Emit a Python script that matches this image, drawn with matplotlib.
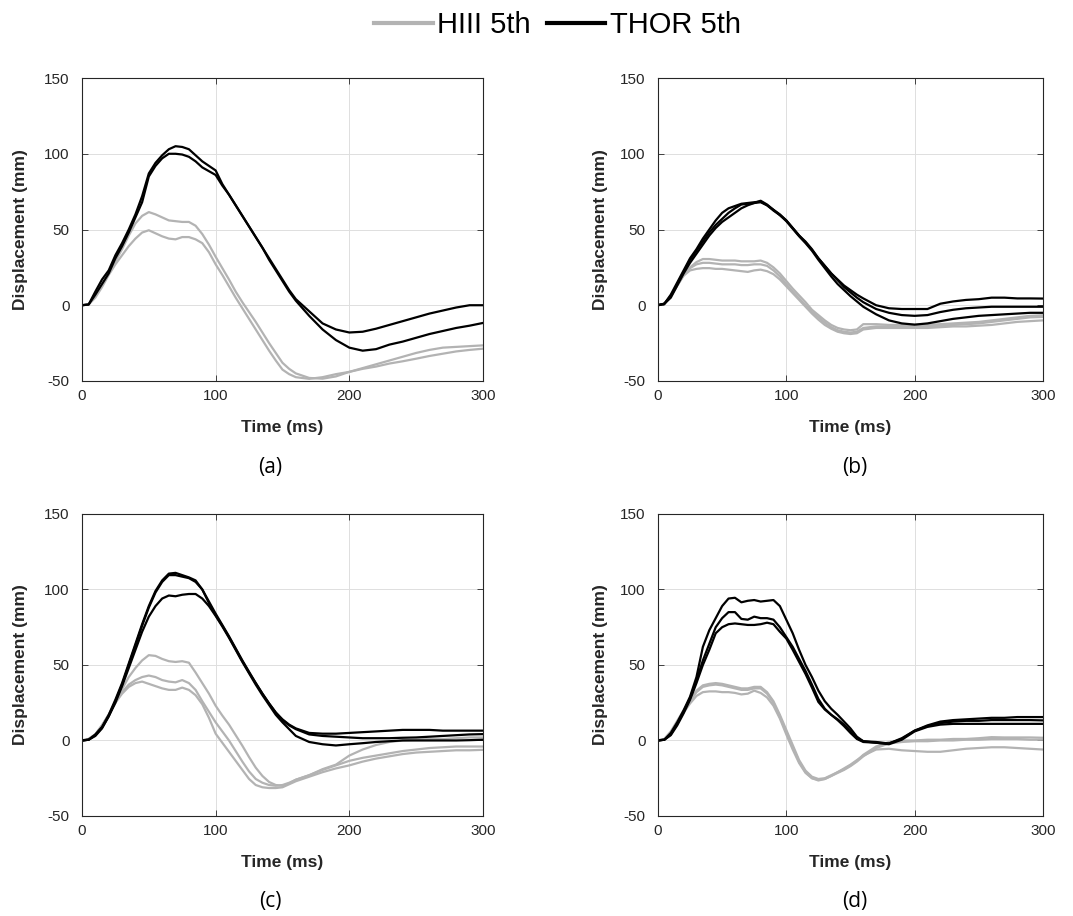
import numpy as np
import matplotlib.pyplot as plt
from matplotlib.lines import Line2D

# time axis shared by every trace (ms)
time_ms = [0, 5, 10, 15, 20, 25, 30, 35, 40, 45, 50, 55, 60, 65, 70, 75, 80, 85, 90, 95,
           100, 105, 110, 115, 120, 125, 130, 135, 140, 145, 150, 155, 160,
           170, 180, 190, 200, 210, 220, 230, 240, 250, 260, 270, 280, 290, 300]

# ---- panel (a) ----
a_hiii_1 = [0, 0.5, 6, 13, 21, 29, 37, 46, 54, 59, 61.5, 60, 58, 56, 55.5, 55, 55, 52.5, 47, 40,
            32, 24.5, 17, 9, 2, -4.5, -11, -18, -25, -31.5, -38, -42, -45,
            -48, -48.5, -47, -44, -41.5, -39, -36.5, -34, -31.5, -29.5, -28, -27.5, -27, -26.5]
a_hiii_2 = [0, 0.5, 5, 12, 20, 27, 33, 39, 44, 48, 49.5, 47.5, 45.5, 44, 43.5, 45, 45, 43.5, 41, 35,
            27, 20, 12.5, 5, -2, -9, -16, -23, -30, -36.5, -42.5, -45.5, -47.5,
            -48.6, -47.5, -45.5, -44, -42, -40.5, -38.5, -37, -35.3, -33.5, -32, -30.5, -29.5, -28.7]
a_thor_1 = [0, 0.5, 9, 17, 23, 33, 41, 50, 60, 72, 87, 94, 99, 103, 105, 104.5, 103, 99, 95, 92,
            89, 80, 73, 66, 59, 52, 45, 38, 31, 24, 17, 10, 4,
            -4, -12, -16, -18, -17.5, -15.5, -13, -10.5, -8, -5.5, -3.5, -1.5, 0, 0]
a_thor_2 = [0, 0.5, 7, 14, 21, 31, 39, 48, 58, 68, 85, 92, 97, 100, 100, 99.5, 98, 95, 91, 88.5,
            86, 79, 73, 66, 59, 52, 45, 38, 30, 23, 16, 9, 3,
            -7, -16, -23, -28, -30, -29, -26, -24, -21.5, -19, -17, -15, -13.5, -11.7]

# ---- panel (b) ----
b_hiii_1 = [0, 1, 6, 13, 20, 25, 28.5, 30.5, 30.5, 30, 29.5, 29.5, 29.5, 29, 29, 29, 29.5, 28, 25, 21,
            16, 11, 6.5, 2, -3, -6.5, -10, -13, -15, -16, -16.5, -16, -12.5,
            -12.5, -13, -13, -13, -13, -12.5, -12, -11.5, -11, -10, -9, -8, -7, -6.6]
b_hiii_2 = [0, 1, 6, 13, 20, 24.5, 27, 28, 28, 27.5, 27, 27, 27, 26.5, 26.5, 27, 27, 26, 23, 19,
            14, 9, 4.5, 0, -4.5, -8, -11.5, -14.5, -16.5, -17.5, -18, -17.5, -15,
            -14, -14, -14, -14, -14, -13.5, -13, -12.5, -12, -11, -10, -9, -8, -7.7]
b_hiii_3 = [0, 1, 6, 13, 19.5, 23, 24, 24.5, 24.5, 24, 24, 23.5, 23, 22.5, 22, 23, 23.5, 22.5, 20.5, 17,
            12.5, 8, 3.5, -1, -5.5, -9.5, -13, -15.5, -17.5, -18.5, -19, -18.5, -16,
            -15, -15, -15, -15, -15, -14.5, -14, -14, -13.5, -13, -12, -11, -10.5, -10]
b_thor_1 = [0, 1, 7, 15, 23, 31, 37, 44, 50, 56, 61, 64, 65.5, 67, 67.5, 68, 68.5, 66, 63, 60,
            56, 51, 46, 42, 37, 31, 26, 21, 17, 13, 10, 7, 4.5,
            0, -2, -2.5, -2.5, -2.5, 1, 2.5, 3.5, 4, 5, 5, 4.5, 4.5, 4.4]
b_thor_2 = [0, 1, 6, 14, 22, 30, 36, 42, 48, 53, 57, 61, 64, 66.5, 67, 67.5, 68, 66, 62.5, 59.5,
            56, 51, 46, 41.5, 36.5, 31, 26, 21, 16.5, 12, 8.5, 5, 2,
            -2.5, -5, -6.5, -7, -6.5, -4.5, -3, -2, -1.5, -1, -1, -1, -1, -1]
b_thor_3 = [0, 1, 5, 13, 21, 28, 34, 40, 46, 51, 55, 58, 61, 64, 66, 67.5, 69, 66.5, 63, 59.5,
            55.5, 50.5, 45.5, 41, 36, 30, 24.5, 19, 14, 10, 6, 2.5, -1,
            -6, -10, -12, -12.8, -12, -10.5, -9, -8, -7, -6.5, -6, -5.5, -5, -5]

# ---- panel (c) ----
c_hiii_1 = [0, 1, 4, 10, 17, 25, 34, 42, 48, 53, 56.5, 56, 54, 52.5, 52, 52.5, 51.5, 45, 38, 31,
            23, 16.5, 10.5, 3.5, -3.5, -11, -18, -23.5, -27.5, -29.5, -30, -28.5, -26,
            -23, -19, -16, -10, -6, -3, -1, 0, 0.5, 1, 1, 1.5, 2, 2]
c_hiii_2 = [0, 1, 4, 10, 17, 25, 32, 37, 40, 42, 43, 42, 40, 39, 38.5, 40, 38, 33.5, 26, 19,
            12, 6, 0, -7, -14, -20.5, -25.5, -28, -29.5, -30, -29.5, -28, -26,
            -23, -19.5, -16.5, -13.5, -11.5, -10, -8.5, -7, -6, -5, -4.5, -4, -4, -4]
c_hiii_3 = [0, 1, 4, 10, 17, 25, 31, 35.5, 38, 39, 37.5, 36, 34.5, 33.5, 33.5, 35, 33.5, 30, 24, 15,
            4.5, -1.5, -7.5, -13.5, -19.5, -25.5, -29.5, -31, -31.5, -31.5, -31, -29, -27,
            -24, -21, -18.5, -16.5, -14, -12, -10.5, -9, -8, -7.5, -7, -6.5, -6.5, -6.2]
c_thor_1 = [0, 0.5, 4, 9, 17, 27, 38, 51, 64, 77, 89, 99, 106, 110.5, 111, 109.5, 108, 106, 100, 91,
            83, 76, 68.5, 60.5, 52.5, 45, 38, 31, 24.5, 18.5, 14, 10.5, 8,
            5, 4.5, 4.5, 5, 5.5, 6, 6.5, 7, 7, 7, 6.5, 6.5, 6.5, 6.5]
c_thor_2 = [0, 0.5, 3.5, 8.5, 16, 26, 37, 50, 63, 76, 88, 98, 105, 109.5, 109.5, 108.5, 107.5, 105, 100, 92,
            84, 76.5, 69, 61, 53, 45.5, 38, 31, 24.5, 18.5, 13.5, 10, 7.5,
            4, 3, 2.5, 2, 1.5, 1.5, 1.5, 1.8, 2, 2.5, 3, 3.5, 4, 4.2]
c_thor_3 = [0, 0.5, 3, 8, 16, 25, 36, 48, 60, 72, 82, 89, 94, 96, 95.5, 96.5, 97, 97, 94, 89,
            82.5, 75.5, 68, 60, 52, 44.5, 37, 30, 23.5, 17, 12, 7.5, 3,
            -1, -2.5, -3.3, -2.5, -1.8, -1, -0.5, 0, 0, 0, 0, 0, 0.2, 0.5]

# ---- panel (d) ----
d_hiii_1 = [0, 1, 6, 13, 20, 27, 33, 36.5, 37.5, 38, 37.5, 36.5, 35.5, 34.5, 34.5, 35.5, 35.5, 32, 26, 17,
            7, -3, -13, -20, -24, -25.5, -25, -23, -21, -19, -16.5, -13.5, -9.5,
            -4, -1, 0, 0, 0.5, 0.5, 1, 1, 1.5, 2.2, 2, 2, 2, 1.8]
d_hiii_2 = [0, 1, 5.5, 12, 19.5, 26, 32, 35.5, 36.5, 37, 36.5, 35.5, 34.5, 33.5, 33.5, 34.5, 34.5, 31, 25, 15.5,
            5.5, -4.5, -14, -21, -25, -26, -25.5, -23.5, -21.5, -19.5, -17, -14, -10.5,
            -5, -2, -1, -0.5, -0.5, 0, 0, 0.5, 0.5, 1, 1, 1, 0.5, 0.5]
d_hiii_3 = [0, 1, 5, 11.5, 18.5, 24.5, 29.5, 32, 32.5, 32.5, 32, 32, 31.5, 30.5, 31, 33, 31.5, 28.5, 23, 14.5,
            4, -6, -15, -21.5, -25, -26.5, -25.5, -23.5, -21, -18.5, -16, -13, -10,
            -6, -5.5, -6.5, -7, -7.5, -7.5, -6.5, -5.5, -5, -4.5, -4.5, -5, -5.5, -6]
d_thor_1 = [0, 0.5, 5, 12, 20, 29, 42, 62, 73, 81, 89, 94, 94.5, 91.5, 92.5, 93, 92, 92.5, 93, 89,
            80, 71, 60, 50, 42, 33, 26, 21, 17, 12.5, 8, 2.5, -0.5,
            -1.5, -2, 1.5, 6.5, 10, 12.5, 13.5, 14, 14.5, 15, 15, 15.5, 15.5, 15.5]
d_thor_2 = [0, 0.5, 4, 11, 19, 28, 40, 53, 64, 75, 81, 85, 85, 80.5, 80, 82, 81, 81, 80, 75,
            68.5, 62, 54, 46, 37, 27.5, 21, 17, 14, 10.5, 6, 1.5, -0.5,
            -1, -2, 1, 6.5, 9.5, 11.5, 12.5, 13, 13, 13.5, 13.5, 13.5, 13.5, 13.3]
d_thor_3 = [0, 0.5, 3.5, 10, 18, 27, 38, 50, 60, 71, 75, 77, 77.5, 77, 76.5, 76.5, 77, 78, 77, 72,
            67.5, 60, 52, 44, 35, 25.5, 20.5, 17, 13.5, 9.5, 5, 1, -1,
            -1.5, -2.5, 0.5, 6, 9, 10.5, 11, 11, 11, 11, 11, 11, 11, 11]

panel_names = ['(a)', '(b)', '(c)', '(d)']
hiii_series = [[a_hiii_1, a_hiii_2],
               [b_hiii_1, b_hiii_2, b_hiii_3],
               [c_hiii_1, c_hiii_2, c_hiii_3],
               [d_hiii_1, d_hiii_2, d_hiii_3]]
thor_series = [[a_thor_1, a_thor_2],
               [b_thor_1, b_thor_2, b_thor_3],
               [c_thor_1, c_thor_2, c_thor_3],
               [d_thor_1, d_thor_2, d_thor_3]]
legend_labels = ['HIII 5th', 'THOR 5th']

gray = '#b3b3b3'
dark = '#262626'

plt.rcParams['font.family'] = ['Liberation Sans', 'DejaVu Sans']
plt.rcParams['axes.unicode_minus'] = False

fig = plt.figure(figsize=(10.73, 9.16), dpi=100)

# axes boxes in figure fractions: left, bottom, width, height
boxes = [(0.0764, 0.5841, 0.3737, 0.3307),
         (0.6132, 0.5841, 0.3588, 0.3307),
         (0.0764, 0.1092, 0.3737, 0.3297),
         (0.6132, 0.1092, 0.3588, 0.3297)]
ylabel_gap = [54, 50, 54, 50]   # px from axis to right edge of y label
label_pos = [(0.2516, 0.490), (0.797, 0.490), (0.2516, 0.016), (0.797, 0.016)]

for i in range(4):
    ax = fig.add_axes(boxes[i])
    for ys in hiii_series[i]:
        ax.plot(time_ms, ys, color=gray, lw=1.6, solid_joinstyle='round')
    for ys in thor_series[i]:
        ax.plot(time_ms, ys, color='black', lw=1.6, solid_joinstyle='round')
    ax.set_xlim(0, 300)
    ax.set_ylim(-50, 150)
    ax.set_xticks([0, 100, 200, 300])
    ax.set_yticks([-50, 0, 50, 100, 150])
    ax.grid(True, color='#dedede', lw=0.7)
    ax.set_axisbelow(True)
    for sp in ax.spines.values():
        sp.set_color(dark)
        sp.set_linewidth(0.8)
    ax.tick_params(direction='in', length=4, width=0.6, colors=dark,
                   labelsize=11, top=True, right=True)
    ax.tick_params(axis='y', pad=9)
    ax.tick_params(axis='x', pad=6)
    ax.set_xlabel('Time (ms)', fontsize=12.5, fontweight='bold', color=dark, labelpad=12)
    ax.set_ylabel('Displacement (mm)', fontsize=12.5, fontweight='bold', color=dark)
    ax.yaxis.set_label_coords(-ylabel_gap[i] / (boxes[i][2] * 1073), 0.5)
    fig.text(label_pos[i][0], label_pos[i][1], panel_names[i], fontsize=15,
             family=['Open Sans', 'DejaVu Sans'], ha='center', va='center')

handles = [Line2D([], [], color=gray, lw=3),
           Line2D([], [], color='black', lw=3)]
fig.legend(handles, legend_labels, loc='center', bbox_to_anchor=(0.5196, 0.9727),
           ncol=2, frameon=False, fontsize=21, handlelength=2.0,
           handletextpad=0.15, columnspacing=0.55, borderpad=0)

fig.savefig('out.png', dpi=100)
